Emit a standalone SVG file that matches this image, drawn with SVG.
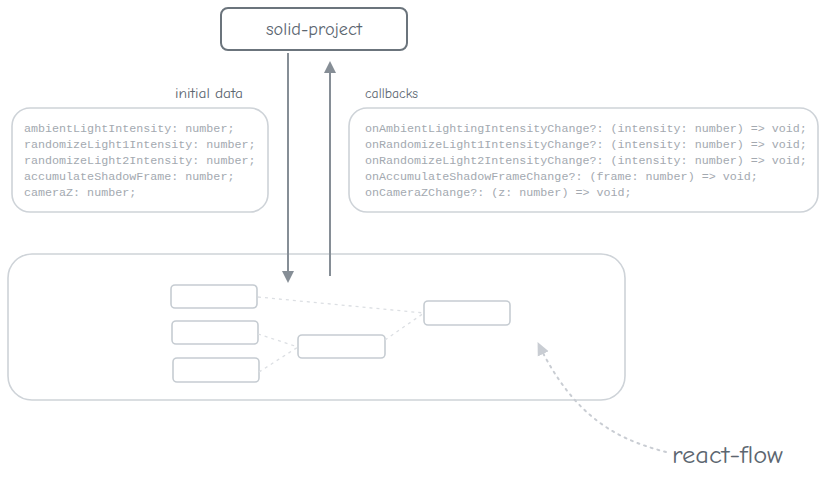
<svg xmlns="http://www.w3.org/2000/svg" width="825" height="478" viewBox="0 0 825 478">
<style>
.hand{font-family:"Comic Neue","Open Sans","Liberation Sans",sans-serif;fill:#5c6670}
.code{font-family:"Liberation Mono","DejaVu Sans Mono",monospace;font-size:11.7px;fill:#a3a9b0}
.light{fill:#fff;stroke:#ced3d8;stroke-width:1.6}
.node{fill:#fff;stroke:#c6ccd2;stroke-width:1.6}
.dot{fill:none;stroke:#dcdfe3;stroke-width:1.3;stroke-dasharray:3 4}
</style>
<defs>
<marker id="ah" markerWidth="12" markerHeight="12" refX="10" refY="6" orient="auto" markerUnits="userSpaceOnUse">
<path d="M0,0 L12,6 L0,12 Z" fill="#868e96"/>
</marker>
<marker id="ah2" markerWidth="14" markerHeight="14" refX="12" refY="7" orient="auto" markerUnits="userSpaceOnUse">
<path d="M0,1 L13,7 L0,13 Z" fill="#c9cdd3"/>
</marker>
</defs>
<g id="container"><rect class="light" x="8" y="254" width="617" height="146" rx="24"/></g>
<g id="solid-project">
<rect x="221" y="8" width="186" height="42" rx="7" fill="#fff" stroke="#6b747c" stroke-width="2"/>
<text class="hand" x="266" y="35" font-size="18" textLength="96" lengthAdjust="spacingAndGlyphs">solid-project</text>
</g>
<g id="initial-data">
<text class="hand" x="175" y="98" font-size="14" textLength="68" lengthAdjust="spacingAndGlyphs">initial data</text>
<rect class="light" x="12" y="108" width="256" height="104" rx="18"/>
<text class="code" x="24" y="132">ambientLightIntensity: number;</text>
<text class="code" x="24" y="148">randomizeLight1Intensity: number;</text>
<text class="code" x="24" y="164">randomizeLight2Intensity: number;</text>
<text class="code" x="24" y="180">accumulateShadowFrame: number;</text>
<text class="code" x="24" y="196">cameraZ: number;</text>
</g>
<g id="callbacks">
<text class="hand" x="365" y="98" font-size="14" textLength="53" lengthAdjust="spacingAndGlyphs">callbacks</text>
<rect class="light" x="349" y="108" width="469" height="104" rx="18"/>
<text class="code" x="365" y="132">onAmbientLightingIntensityChange?: (intensity: number) =&gt; void;</text>
<text class="code" x="365" y="148">onRandomizeLight1IntensityChange?: (intensity: number) =&gt; void;</text>
<text class="code" x="365" y="164">onRandomizeLight2IntensityChange?: (intensity: number) =&gt; void;</text>
<text class="code" x="365" y="180">onAccumulateShadowFrameChange?: (frame: number) =&gt; void;</text>
<text class="code" x="365" y="196">onCameraZChange?: (z: number) =&gt; void;</text>
</g>
<g id="n1"><rect class="node" x="171" y="285" width="86" height="23" rx="4"/></g>
<g id="n2"><rect class="node" x="172" y="321" width="86" height="23" rx="4"/></g>
<g id="n3"><rect class="node" x="173" y="358" width="86" height="24" rx="4"/></g>
<g id="n4"><rect class="node" x="298" y="335" width="87" height="23" rx="4"/></g>
<g id="n5"><rect class="node" x="424" y="301" width="86" height="24" rx="4"/></g>
<g id="react-flow-label">
<text class="hand" x="672" y="463" font-size="25" textLength="111" lengthAdjust="spacingAndGlyphs">react-flow</text>
</g>
<g id="connectors">
<line x1="288" y1="53" x2="288" y2="281" stroke="#868e96" stroke-width="2" marker-end="url(#ah)"/>
<line x1="330" y1="276" x2="330" y2="63" stroke="#868e96" stroke-width="2" marker-end="url(#ah)"/>
<line class="dot" x1="258" y1="297" x2="424" y2="313"/>
<line class="dot" x1="258" y1="334" x2="298" y2="347"/>
<line class="dot" x1="259" y1="372" x2="298" y2="347"/>
<line class="dot" x1="385" y1="340" x2="424" y2="313"/>
<path d="M666,452 C620,440 575,420 538,343" fill="none" stroke="#c9cdd3" stroke-width="2" stroke-dasharray="2 5" stroke-linecap="round" marker-end="url(#ah2)"/>
</g>
</svg>
